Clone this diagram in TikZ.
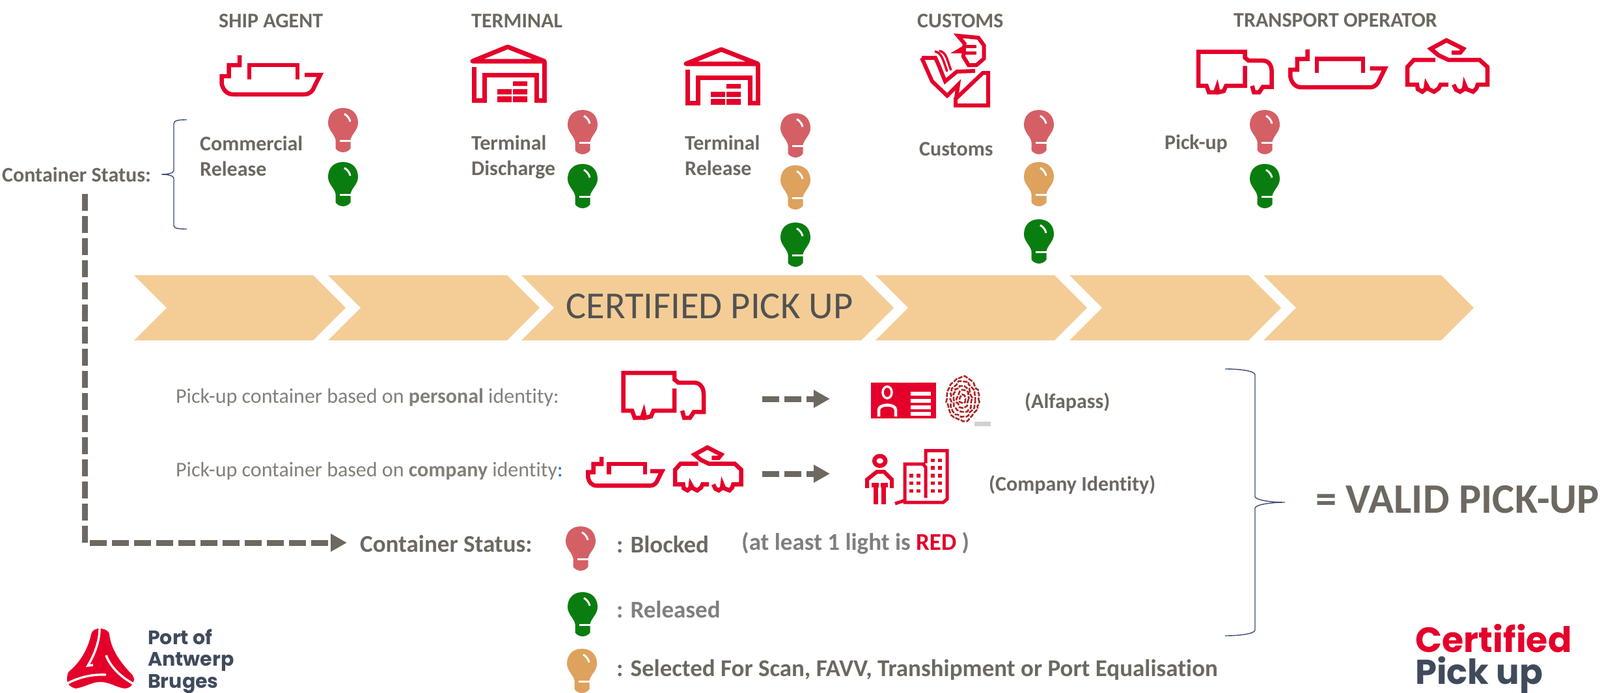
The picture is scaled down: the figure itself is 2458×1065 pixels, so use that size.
\documentclass[tikz,border=0pt]{standalone}
\usepackage{fontspec}
\setmainfont{Carlito}[Ligatures=NoCommon]
\newfontfamily\logofont{Poppins}
\usetikzlibrary{arrows.meta,decorations.pathmorphing}

\definecolor{iconred}{HTML}{E4002B}
\definecolor{bulbred}{HTML}{D46066}
\definecolor{bulbgreen}{HTML}{0A7D10}
\definecolor{bulborange}{HTML}{DDA25D}
\definecolor{chevronfill}{HTML}{F4CD96}
\definecolor{textgrey}{HTML}{6D6860}
\definecolor{lightgrey}{HTML}{7F7F7F}
\definecolor{bracenavy}{HTML}{3B4A75}
\definecolor{logonavy}{HTML}{3F4B5C}

\tikzset{
  lbl/.style={anchor=mid west,inner sep=0pt,yshift=-9pt,text=textgrey,font=\fontsize{32}{39}\selectfont\bfseries},
  lblbig/.style={lbl,font=\fontsize{37}{44}\selectfont\bfseries},
  lblthin/.style={lbl,text=textgrey!85,font=\fontsize{32}{39}\selectfont},
  iconline/.style={draw=iconred,line width=6.5pt},
  bracestyle/.style={draw=bracenavy,line width=1.4pt},
  statusarrow/.style={draw=textgrey,line width=9pt,dash pattern=on 26pt off 8pt,
    -{Triangle[length=25pt,width=26pt]}},
  bulb/.pic={
    \fill[#1] (23,0) .. controls (38,0) and (46,10) .. (46,23)
      .. controls (46,34) and (36,40) .. (34.5,49) -- (34.5,62)
      .. controls (32,66) and (27,68) .. (23,68) .. controls (19,68) and (14,66) .. (11.5,62)
      -- (11.5,49) .. controls (10,40) and (0,34) .. (0,23)
      .. controls (0,10) and (8,0) .. (23,0) -- cycle;
    \draw[white,line width=3pt] (25,9) .. controls (30,12) and (33,16) .. (34,21);
    \fill[white] (18,49) rectangle (35,52);
  },
  shipicon/.pic={
    \draw[iconline] (32,0) -- (32,15) -- (15.6,15) -- (15.6,32) -- (4.5,32) -- (4.5,43)
      .. controls (6,52) and (12,60) .. (22,60) -- (132,60) .. controls (140,60) and (145,54) .. (147,48)
      -- (156,30) -- (132,30);
    \draw[iconline] (47,37) -- (47,15) -- (121,15) -- (121,37);
  },
  truckicon/.pic={
    \draw[iconline] (82,27) -- (82,61) -- (50,61) -- (46,70) -- (37,72) -- (35,63) -- (32,72) -- (21,72)
      -- (17,61) -- (3.5,61) -- (3.5,3) -- (82,3) -- (82,13) -- (88,18) -- (112,18)
      .. controls (122,18) and (127,26) .. (127,36) -- (127,63) -- (112,63) -- (106,72) -- (97,72) -- (94,61);
  },
  tramicon/.pic={
    \draw[iconline] (48,32) -- (15,32) -- (5,43) -- (5,70) -- (20,70) -- (21,77) -- (28,81) -- (33,77)
      -- (34,70) -- (38,77) -- (46,81) -- (53,76) -- (56,70) -- (68,70);
    \draw[iconline] (76,70) -- (80,78) -- (86,81) -- (92,77) -- (93,70) -- (96,77) -- (106,81) -- (111,76)
      -- (113,70) -- (128,70) -- (128,43) -- (116,32) -- (68,32) -- (53,25) -- (41,15) -- (65,2)
      -- (91,15) -- (86,21) -- (73,21);
  },
  terminalicon/.pic={
    \draw[iconline,line width=7pt,line join=round] (2,25) -- (56,3) -- (112,25) -- cycle;
    \draw[iconline,line width=7pt] (4,34) -- (4,85) -- (20,85) -- (20,46) -- (100,46) -- (100,85) -- (112,85) -- (112,25);
    \fill[iconred] (64,56) rectangle (86,63) (40,68) rectangle (62,76) (64,68) rectangle (86,76)
      (40,79) rectangle (62,88) (64,79) rectangle (86,88);
  },
  customsicon/.pic={
    \fill[iconred] (44,29) -- (66,16) -- (66,29) -- cycle;
    \draw[iconline,line width=6pt] (55.7,2) -- (87,5) -- (95.7,17) -- (95.7,37) -- (84,47) -- (72,47)
      -- (64,34) -- (65.7,14) -- cycle;
    \draw[iconline,line width=5pt] (66,19) -- (84,19) (66,29) -- (84,29);
    \draw[iconline,line width=3.5pt] (20,26) .. controls (30,28) and (32,36) .. (39,57);
    \draw[iconline,line width=3.5pt] (27,25) .. controls (38,28) and (38,36) .. (45,55);
    \draw[iconline,line width=6pt] (0,36) -- (21,36) -- (26,47) -- (36,72) -- (54,57) -- (82,56);
    \draw[iconline,line width=6pt] (0,36) -- (16,72) -- (39,94) -- (56,77) -- (53,97);
    \draw[iconline,line width=6pt] (52,109) -- (102,109) -- (102,59) -- (94,59) -- (52,99) -- cycle;
  },
  idcardicon/.pic={
    \fill[iconred] (0,0) rectangle (100,55);
    \fill[white] (41,0) arc[start angle=180,end angle=360,x radius=13.5,y radius=14] -- cycle;
    \draw[white,line width=3.5pt] (25,15) ellipse[x radius=7,y radius=9];
    \draw[white,line width=4.5pt] (12,52) -- (12,42) .. controls (12,32) and (38,32) .. (38,42) -- (38,52);
    \foreach \rowy in {14,25,35,45}
      \fill[white] (61,\rowy) rectangle (92,\rowy+6);
  },
  fingerprinticon/.pic={
    \foreach \rad in {4,9,...,24}
      \draw[red!60!black!85,line width=2.6pt,dash pattern=on 7pt off 2pt,
        decorate,decoration={random steps,segment length=4pt,amplitude=1.8pt}]
        (26,36) ellipse[x radius=\rad,y radius=\rad*1.4];
    \fill[black!18] (44,71) rectangle (69,78);
  },
  personicon/.pic={
    \draw[iconline,line width=6.5pt] (21.7,10.3) ellipse[x radius=8.5,y radius=7.5];
    \draw[iconline,line width=6pt] (2,52) -- (2,39) -- (17,27) -- (28,27) -- (40,39) -- (40,52);
    \draw[iconline,line width=7pt] (15,77) -- (15,48) (9,47) -- (20,47);
    \draw[iconline,line width=7pt] (27,77) -- (27,48) (23,47) -- (34,47);
  },
  buildingicon/.pic={
    \draw[iconline,line width=5pt] (46,22) -- (46,2.5) -- (79,2.5) -- (79,77) -- (73,82) -- (14,82) -- (14,23)
      -- (42,23) -- (46,28) -- (46,75);
    \draw[iconline,line width=5pt] (-1,84) -- (14,79);
    \foreach \colx in {54,65}
      \foreach \rowy in {14.5,26,38,49.5,61.5}
        \fill[iconred] (\colx,\rowy) rectangle (\colx+6,\rowy+5.5);
    \foreach \colx in {21,32}
      \foreach \rowy in {38,49.5,61.5}
        \fill[iconred] (\colx,\rowy) rectangle (\colx+6,\rowy+5.5);
  },
  logomark/.pic={
    \fill[iconred] (50,0) .. controls (58,0) and (65,4) .. (65,9)
      .. controls (68,35) and (85,55) .. (100,71) .. controls (104,76) and (103,81) .. (102,81)
      .. controls (100,90) and (93,92) .. (88,92) .. controls (75,90) and (65,82) .. (51,82)
      .. controls (38,82) and (28,90) .. (13,92) .. controls (5,90) and (0,85) .. (0,79)
      .. controls (0,72) and (1,68) .. (3,66) .. controls (20,52) and (32,32) .. (37,9)
      .. controls (38,4) and (42,0) .. (50,0) -- cycle;
    \draw[white,line width=3.4pt] (50,0) .. controls (50,20) and (42,40) .. (32,57) -- (40,56);
    \draw[white,line width=3.4pt] (1,84) .. controls (20,74) and (40,70) .. (60,71);
    \draw[white,line width=3.4pt] (60,41) .. controls (66,58) and (82,74) .. (102,85);
  }
}

\begin{document}
\begin{tikzpicture}[x=1pt,y=-1pt]
  \useasboundingbox (0,0) rectangle (2458,1065);

  % chevrons
  \foreach \xa/\xb in {206/531,504/829,801/1373,1345/1670,1643/1968,1941/2264}
    \fill[chevronfill] (\xa,423) -- (\xb-50,423) -- (\xb,473) -- (\xb-50,523) -- (\xa,523) -- (\xa+50,473) -- cycle;
  \node[anchor=center,inner sep=0pt,text=black!68,font=\fontsize{58.5}{66}\selectfont] (banner) at (1090,471) {CERTIFIED PICK UP};

  % top row
  \node[lbl] (shipagent) at (336,31) {SHIP AGENT};
  \node[lbl] (terminal) at (724,31) {TERMINAL};
  \node[lbl] (customshead) at (1409,31) {CUSTOMS};
  \node[lbl] (transport) at (1895,30) {TRANSPORT OPERATOR};

  \pic at (336,85) {shipicon};
  \pic at (724,69) {terminalicon};
  \pic at (1052,73) {terminalicon};
  \pic at (1416,53) {customsicon};
  \pic[xscale=.91,yscale=.9] at (1838,77) {truckicon};
  \pic[xscale=.96,yscale=.97] at (1978,76) {shipicon};
  \pic at (2157,60) {tramicon};

  \node[lbl] (commercial) at (307,220) {Commercial};
  \node[lbl] (commrelease) at (307,259) {Release};
  \node[lbl] (termdischarge) at (724,219) {Terminal};
  \node[lbl] (discharge) at (724,258) {Discharge};
  \node[lbl] (termrelease) at (1052,219) {Terminal};
  \node[lbl] (release) at (1052,258) {Release};
  \node[lbl] (customs) at (1412,228) {Customs};
  \node[lbl] (pickup) at (1789,218) {Pick-up};

  \foreach \bx/\by/\bc in {504/166/bulbred,504/249/bulbgreen,872/169/bulbred,872/252/bulbgreen,
      1199/174/bulbred,1199/254/bulborange,1199/342/bulbgreen,
      1573/169/bulbred,1573/249/bulborange,1573/337/bulbgreen,
      1920/169/bulbred,1920/252/bulbgreen,
      869/809/bulbred,872/910/bulbgreen,871/997/bulborange}
    \pic at (\bx,\by) {bulb=\bc};

  % status brace
  \node[lbl] (statusleft) at (3,268) {Container Status:};
  \draw[bracestyle] (287,184) .. controls (275,184) and (267,185) .. (267,190) -- (267,262)
    .. controls (267,266) and (258,268) .. (248,268) .. controls (258,268) and (267,270) .. (267,274)
    -- (267,347) .. controls (267,351) and (275,352) .. (287,352);

  % identity rows
  \node[lblthin] (personal) at (270,608) {Pick-up container based on \textbf{personal} identity:};
  \node[lblthin] (company) at (270,721) {Pick-up container based on \textbf{company} identity\textcolor{blue!60!cyan}{:}};
  \pic at (954,570) {truckicon};
  \pic[xscale=.75,yscale=.74] at (900,702) {shipicon};
  \pic[xscale=.826,yscale=.835] at (1033,686) {tramicon};
  \pic at (1338,588) {idcardicon};
  \pic at (1453,577) {fingerprinticon};
  \pic at (1330,698) {personicon};
  \pic at (1376,690) {buildingicon};

  \coordinate (arrowa) at (1171,613);
  \coordinate (arrowb) at (1275,613);
  \coordinate (arrowc) at (1171,728);
  \coordinate (arrowd) at (1275,728);
  \draw[statusarrow] (arrowa) -- (arrowb);
  \draw[statusarrow] (arrowc) -- (arrowd);

  \node[lbl] (alfapass) at (1574,616) {(Alfapass)};
  \node[lbl] (companyid) at (1519,743) {(Company Identity)};

  \draw[bracestyle] (1882,567) .. controls (1905,567) and (1928,570) .. (1928,576) -- (1928,763)
    .. controls (1928,768) and (1950,772) .. (1974,772) .. controls (1950,772) and (1928,776) .. (1928,781)
    -- (1928,968) .. controls (1928,974) and (1905,977) .. (1882,977);
  \node[lbl,font=\fontsize{64.5}{70}\selectfont\bfseries] (valid) at (2021,777) {= VALID PICK-UP};

  % legend
  \node[lblbig] (statusbottom) at (553,837) {Container Status:};
  \coordinate (dashstart) at (130,298);
  \coordinate (dashcorner) at (130,834);
  \coordinate (dashend) at (533,834);
  \draw[statusarrow] (dashstart) -- (dashcorner) -- (dashend);

  \node[lblbig] (blocked) at (947,838) {: Blocked};
  \node[lblbig,text=lightgrey] (atleast) at (1139,834) {(at least 1 light is \textcolor{iconred}{RED} )};
  \node[lblbig,text=lightgrey] (released) at (947,938) {: Released};
  \node[lblbig] (selected) at (947,1028) {: Selected For Scan, FAVV, Transhipment or Port Equalisation};

  % logos
  \pic at (103,966) {logomark};
  \node[anchor=west,inner sep=0pt,align=left,text=logonavy,font=\logofont\fontsize{30}{33.5}\selectfont\bfseries] (portname) at (227,1016) {Port of\\Antwerp\\Bruges};
  \node[anchor=west,inner sep=0pt,text=iconred,font=\logofont\fontsize{54}{60}\selectfont\bfseries] (certified) at (2174,981) {Certified};
  \node[anchor=west,inner sep=0pt,text=logonavy,font=\logofont\fontsize{53}{60}\selectfont\bfseries] (pickuplogo) at (2174,1037) {Pick up};
\end{tikzpicture}
\end{document}
